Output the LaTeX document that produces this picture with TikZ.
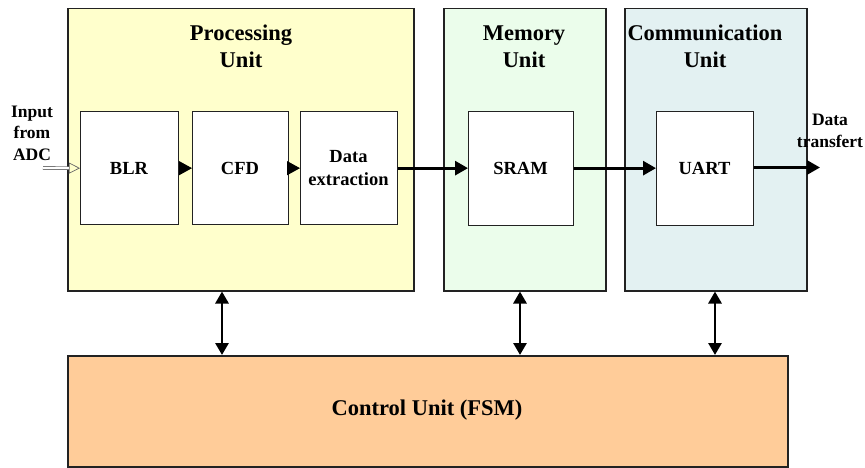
\documentclass[tikz,border=0pt]{standalone}
\usepackage{fontspec}
\setmainfont{Liberation Serif}
\usetikzlibrary{arrows.meta}
\definecolor{procfill}{HTML}{FFFFCC}
\definecolor{memfill}{HTML}{EBFDEB}
\definecolor{comfill}{HTML}{E3F1F2}
\definecolor{ctrlfill}{HTML}{FFCC99}
\definecolor{edge}{HTML}{222222}
\tikzset{
  unitbox/.style={draw=edge, line width=1.5pt, rectangle, anchor=north west, inner sep=0pt},
  blockbox/.style={draw=edge, line width=1.3pt, fill=white, rectangle, anchor=north west, inner sep=0pt},
  blocktext/.style={font=\fontsize{18.5}{23}\selectfont\bfseries, align=center, inner sep=0pt},
  title/.style={font=\fontsize{22.5}{27}\selectfont\bfseries, align=center, inner sep=0pt},
  side/.style={font=\fontsize{17.5}{21.5}\selectfont\bfseries, align=center, inner sep=0pt},
  flow/.style={line width=2.8pt, -{Triangle[length=13pt,width=14pt]}},
  smallflow/.style={line width=1.2pt, -{Triangle[length=13pt,width=14pt]}},
  bus/.style={line width=2.8pt, {Triangle[length=12pt,width=13pt]}-{Triangle[length=12pt,width=13pt]}},
}
\begin{document}
\begin{tikzpicture}[x=1pt,y=-1pt]
\useasboundingbox (0,0) rectangle (865,468);
% units
\node[unitbox, fill=procfill, minimum width=346pt, minimum height=282pt] (proc) at (67,8) {};
\node[unitbox, fill=memfill, minimum width=162pt, minimum height=282pt] (mem) at (443,8) {};
\node[unitbox, fill=comfill, minimum width=182pt, minimum height=282pt] (com) at (624,8) {};
\node[unitbox, fill=ctrlfill, minimum width=720pt, minimum height=111pt] (ctrl) at (67,355) {};
% titles
\node[title] (tproc) at (241,46.5) {Processing\\Unit};
\node[title] (tmem) at (524,46.5) {Memory\\Unit};
\node[title] (tcom) at (705,46.5) {Communication\\Unit};
\node[title] (tctrl) at (427,410) {Control Unit (FSM)};
% blocks
\node[blockbox, minimum width=98pt, minimum height=113pt] (blr) at (80,111) {};
\node[blockbox, minimum width=96pt, minimum height=113pt] (cfd) at (192,111) {};
\node[blockbox, minimum width=97pt, minimum height=113pt] (dex) at (300,111) {};
\node[blockbox, minimum width=105pt, minimum height=114pt] (sram) at (468,111) {};
\node[blockbox, minimum width=97pt, minimum height=114pt] (uart) at (656,111) {};
\node[blocktext] (lblr) at (129,168) {BLR};
\node[blocktext] (lcfd) at (240,168) {CFD};
\node[blocktext] (ldex) at (348.5,168) {Data\\extraction};
\node[blocktext] (lsram) at (520.5,168) {SRAM};
\node[blocktext] (luart) at (704.5,168) {UART};
% side texts
\node[side] (inp) at (32,133) {Input\\from\\ADC};
\node[side] (dtr) at (830,131) {Data\\transfert};
% input arrow
\coordinate (inl) at (43,168);
\draw[double=white, double distance=2.2pt, line width=0.7pt, draw=gray!80!black,
  -{Triangle[open,length=11pt,width=11pt]}] (inl) -- (blr.west);
% internal arrows
\draw[smallflow] (blr.east) -- (cfd.west);
\draw[smallflow] (cfd.east) -- (dex.west);
\draw[flow] (dex.east) -- (sram.west |- dex.east);
\draw[flow] (sram.east |- dex.east) -- (uart.west |- dex.east);
\coordinate (outr) at (820,167.5);
\draw[flow] (uart.east |- outr) -- (outr);
% control buses
\coordinate (v1) at (222,0);
\coordinate (v2) at (520,0);
\coordinate (v3) at (715,0);
\draw[bus] (v1 |- proc.south) -- (v1 |- ctrl.north);
\draw[bus] (v2 |- mem.south) -- (v2 |- ctrl.north);
\draw[bus] (v3 |- com.south) -- (v3 |- ctrl.north);
\end{tikzpicture}
\end{document}
